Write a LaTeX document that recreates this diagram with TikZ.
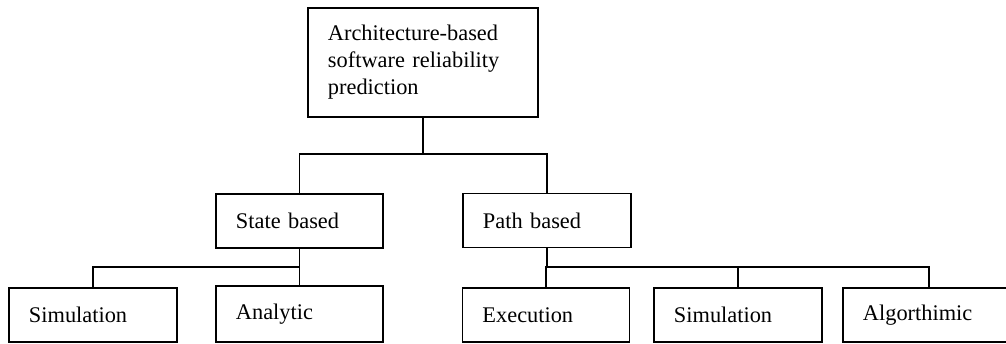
\documentclass[tikz,border=0pt]{standalone}
\usepackage{fontspec}
\setmainfont{Liberation Serif}
\usepackage{tikz}
\usetikzlibrary{positioning,calc}

\tikzset{
  blk/.style={draw, line width=1.1pt, align=left, inner xsep=0.5cm, inner ysep=0pt,
    text width=#1, minimum height=1.35cm, font=\fontsize{15.9}{19.2}\selectfont},
  conn/.style={line width=1.1pt}
}

\begin{document}
\begin{tikzpicture}[x=0.025cm, y=-0.025cm]
  \useasboundingbox (0,0) rectangle (1006,343);

  % Root box
  \node[blk=4.75cm, minimum height=2.725cm] (arch) at (423,62.5)
    {Architecture-based\\software reliability\\prediction};

  % Second level
  \node[blk=3.175cm] (state) at (299.5,221) {State based};
  \node[blk=3.2cm] (path) at (547,220.5) {Path based};

  % Leaves
  \node[blk=3.2cm] (simA) at (93,315) {Simulation};
  \node[blk=3.175cm, minimum height=1.4cm] (anal) at (299.5,314) {Analytic};
  \node[blk=3.175cm] (exec) at (546,315) {Execution};
  \node[blk=3.2cm] (simB) at (738,315) {Simulation};
  \node[blk=3.3cm] (algo) at (929,315) {Algorthimic};

  % Bus points
  \coordinate (topbus) at (423,154);
  \coordinate (lbus) at (299.5,267);
  \coordinate (rbus) at (547,267);

  % Connections
  \draw[conn] (arch.south) -- (topbus);
  \draw[conn] (state.north) |- (topbus) -| (path.north);
  \draw[conn] (state.south) -- (lbus) -- (anal.north);
  \draw[conn] (simA.north) |- (lbus);
  \draw[conn] (path.south) -- (rbus);
  \draw[conn] (exec.north) |- (rbus) -| (algo.north);
  \draw[conn] (simB.north) -- (simB.north |- rbus);
\end{tikzpicture}
\end{document}
